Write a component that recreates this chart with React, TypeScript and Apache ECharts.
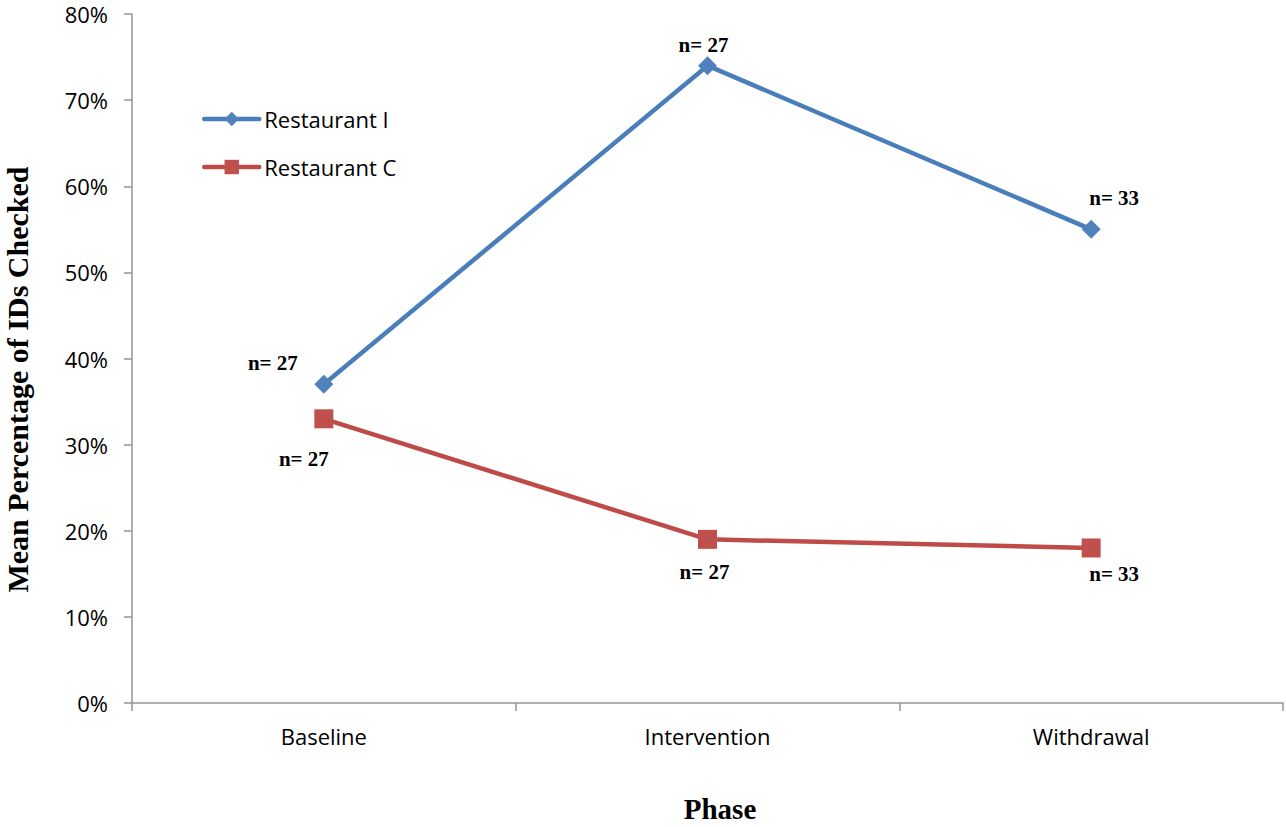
import React, { useEffect, useRef } from "react";
import * as echarts from "echarts";

// Phases on the x axis
const phases = ["Baseline", "Intervention", "Withdrawal"];
// Mean percentage of IDs checked, per phase
const restaurantI = [37, 74, 55];
const restaurantC = [33, 19, 18];
// Number of observations per phase
const sampleSizesI = [27, 27, 33];
const sampleSizesC = [27, 27, 33];

// Where each "n=" note sits relative to its marker (px)
const noteOffsetsI: [number, number][] = [[-51, -21], [-4, -21], [23, -31]];
const noteOffsetsC: [number, number][] = [[-20, 40], [-3, 33], [23, 26]];

const BLUE_LINE = "#4A7EBB";
const BLUE_MARK = "#4F81BD";
const RED_LINE = "#BE4B48";
const RED_MARK = "#C0504D";
const AXIS_GRAY = "#959595";
const SANS = "'Open Sans', 'Noto Sans', sans-serif";
const SERIF = "'Liberation Serif', 'Times New Roman', serif";

const noteStyle = {
  fontFamily: SERIF,
  fontWeight: "bold" as const,
  fontSize: 21,
  color: "#000",
};

function withNotes(values: number[], sizes: number[], offsets: [number, number][]) {
  return values.map((v, i) => ({
    value: v,
    label: {
      show: true,
      position: "inside",
      offset: offsets[i],
      formatter: `n= ${sizes[i]}`,
      ...noteStyle,
    },
  }));
}

export default function App() {
  const ref = useRef<HTMLDivElement>(null);

  useEffect(() => {
    document.body.style.margin = "0";
    if (!ref.current) return;
    const chart = echarts.init(ref.current, undefined, { renderer: "svg" });
    chart.setOption({
      animation: false,
      backgroundColor: "#fff",
      grid: {
        left: 132,
        right: 3,
        top: 14,
        bottom: 124,
        containLabel: false,
        outerBoundsMode: "none",
      },
      legend: {
        orient: "vertical",
        left: 197,
        top: 103,
        itemWidth: 55,
        itemHeight: 18,
        itemGap: 26,
        lineStyle: { width: 4.5, cap: "round" },
        textStyle: { fontFamily: SANS, fontSize: 22, color: "#000", lineHeight: 22 },
        data: ["Restaurant I", "Restaurant C"],
      },
      xAxis: {
        type: "category",
        data: phases,
        boundaryGap: true,
        axisLine: { lineStyle: { color: AXIS_GRAY, width: 1.5 } },
        axisTick: { show: true, interval: 0, length: 8, lineStyle: { color: AXIS_GRAY, width: 1.5 } },
        axisLabel: { fontFamily: SANS, fontSize: 22, color: "#000", margin: 22 },
        name: "Phase",
        nameLocation: "middle",
        nameGap: 91,
        nameTextStyle: { ...noteStyle, fontSize: 29, padding: [0, 0, 0, 25] },
      },
      yAxis: {
        type: "value",
        min: 0,
        max: 80,
        interval: 10,
        axisLine: { show: true, lineStyle: { color: AXIS_GRAY, width: 1.5 } },
        axisTick: { show: true, length: 8, lineStyle: { color: AXIS_GRAY, width: 1.5 } },
        splitLine: { show: false },
        axisLabel: { fontFamily: SANS, fontSize: 22, color: "#000", margin: 24, formatter: "{value}%" },
        name: "Mean Percentage of IDs Checked",
        nameLocation: "middle",
        nameGap: 100,
        nameTextStyle: { ...noteStyle, fontSize: 30, padding: [0, 42, 0, 0] },
      },
      series: [
        {
          name: "Restaurant I",
          type: "line",
          data: withNotes(restaurantI, sampleSizesI, noteOffsetsI),
          symbol: "diamond",
          symbolSize: 19,
          lineStyle: { color: BLUE_LINE, width: 4.5 },
          itemStyle: { color: BLUE_MARK },
          z: 3,
        },
        {
          name: "Restaurant C",
          type: "line",
          data: withNotes(restaurantC, sampleSizesC, noteOffsetsC),
          symbol: "rect",
          symbolSize: 19,
          lineStyle: { color: RED_LINE, width: 4.5 },
          itemStyle: { color: RED_MARK },
          z: 2,
        },
      ],
    });
    return () => chart.dispose();
  }, []);

  return <div ref={ref} style={{ width: 1286, height: 827 }} />;
}
